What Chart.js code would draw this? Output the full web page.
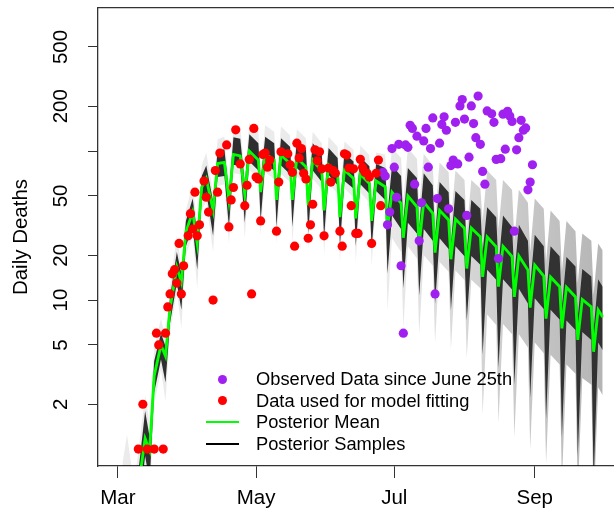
<!DOCTYPE html>
<html>
<head>
<meta charset="utf-8">
<script src="https://cdn.jsdelivr.net/npm/chart.js@4.4.0/dist/chart.umd.min.js"></script>
<style>
  html, body { margin: 0; padding: 0; background: #fff; }
  #wrap { position: relative; width: 614px; height: 516px; }
  .row { position: absolute; left: 200px; height: 22px; width: 360px; font: 18.3px "Liberation Sans", Arial, sans-serif; color: #000; white-space: nowrap; }
  .row .txt { position: absolute; left: 56px; top: 0; line-height: 22px; }
  .dot { position: absolute; left: 17.5px; top: 6.5px; width: 9px; height: 9px; border-radius: 50%; }
  .ln { position: absolute; left: 6px; top: 10px; width: 33px; height: 2px; }
</style>
</head>
<body>
<div id="wrap">
  <canvas id="chart" width="614" height="516"></canvas>
  <div class="row" style="top:368px"><span class="dot" style="background:#a020f0"></span><span class="txt">Observed Data since June 25th</span></div>
  <div class="row" style="top:389.5px"><span class="dot" style="background:#ff0000"></span><span class="txt">Data used for model fitting</span></div>
  <div class="row" style="top:411px"><span class="ln" style="background:#00ff00"></span><span class="txt">Posterior Mean</span></div>
  <div class="row" style="top:432.5px"><span class="ln" style="background:#000"></span><span class="txt">Posterior Samples</span></div>
</div>
<script>
// Axis ticks (days counted from March 1st)
const monthTicks = [0, 61, 122, 184];
const monthLabels = ['Mar', 'May', 'Jul', 'Sep'];
const deathTicks = [2, 5, 10, 20, 50, 100, 200, 500];
const deathTickLabels = ['2', '5', '10', '20', '50', '', '200', '500'];

// Data used for model fitting (red)
const fitDays = [9, 11, 13, 16, 17, 18, 20, 21, 22, 23, 24, 25, 26, 27, 28, 29,
  31, 32, 33, 34, 35, 36, 38, 39, 40, 42, 43, 44, 45, 48, 49, 50, 51, 52, 54,
  56, 57, 58, 59, 60, 61, 62, 63, 64, 65, 66, 67, 70, 71, 72, 75, 76, 77, 78,
  79, 80, 81, 82, 83, 84, 85, 86, 87, 88, 89, 90, 91, 93, 94, 95, 96, 98, 99,
  100, 101, 102, 103, 104, 105, 106, 107, 108, 109, 110, 111, 112, 114, 115, 116];
const fitDeaths = [1, 2, 1, 1, 6, 5, 1, 6, 9, 11, 15, 16, 13, 24, 11, 17,
  27, 38, 30, 53, 27, 32, 63, 49, 39, 10, 74, 53, 97, 110, 31, 47, 57, 139, 82,
  43, 59, 88, 11, 142, 67, 65, 34, 95, 97, 78, 87, 29, 62, 99, 96, 81, 72, 23,
  113, 90, 104, 71, 65, 26, 32, 44, 102, 86, 99, 76, 27, 77, 62, 74, 71, 29, 23,
  96, 94, 77, 43, 76, 28, 28, 88, 78, 72, 71, 67, 24, 71, 87, 43];

// Observed data since June 25th (purple)
const obsDays = [117, 118, 119, 120, 121, 122, 123, 124, 125, 126, 127, 128, 129,
  130, 131, 132, 133, 134, 135, 136, 137, 138, 139, 140, 141, 142, 143, 144, 145,
  146, 147, 148, 149, 150, 151, 152, 153, 154, 155, 156, 157, 158, 159, 160, 161,
  162, 163, 165, 166, 167, 168, 169, 170, 171, 172, 173, 174, 175, 176, 177, 178,
  179, 180, 181, 182, 183];
const obsDeaths = [72, 68, 32, 39, 104, 78, 49, 111, 17, 6, 110, 106, 149,
  142, 60, 126, 25, 45, 117, 142, 78, 104, 167, 11, 48, 113, 151, 170, 138,
  41, 80, 87, 156, 82, 201, 222, 164, 37, 91, 201, 153, 123, 234, 111, 73,
  60, 186, 178, 156, 88, 19, 89, 177, 103, 185, 172, 158, 29, 102, 123, 161,
  138, 143, 55, 62, 81];

// Posterior mean and the spread of the posterior samples, read at the weekly turning points
const curveDays = [2, 4, 7, 9, 12, 14, 16, 19, 21,
  23, 26, 28, 30, 33, 35, 37, 39, 42, 44, 47, 49,
  51, 54, 56, 58, 62, 63, 65, 69, 70, 72, 76, 77,
  79, 83, 84, 86, 90, 91, 93, 97, 98, 100, 104, 105,
  107, 111, 112, 114, 118, 119, 121, 125, 126, 128, 132, 133,
  135, 139, 140, 142, 146, 147, 149, 153, 154, 156, 160, 161,
  163, 167, 168, 170, 174, 175, 177, 181, 182, 184, 188, 189,
  191, 195, 196, 198, 202, 203, 205, 209, 210, 212, 214];
const meanDeaths = [0.3, 0.35, 0.4, 0.55, 1.18, 0.98, 3.1, 5.0, 4.2,
  8.8, 16.7, 13.2, 28.7, 39, 24, 57, 65.6, 40, 82.5, 84, 47,
  95, 93, 51, 100, 87, 53, 96, 87, 47, 94, 82.5, 47,
  90, 78.5, 43.4, 87, 73, 40, 80.6, 69, 36, 74.6, 65.6, 35.4,
  70, 60.6, 34, 63, 57.6, 30.5, 53, 44.5, 26.2, 50, 42.3, 23.7,
  45.5, 38.2, 20.8, 40, 34.5, 18.8, 35, 30.3, 16.3, 30.5, 26.6, 14.3,
  26.5, 22.8, 12.3, 23, 19.6, 10.5, 19.8, 15.9, 8.9, 17.2, 14.5, 7.5,
  14.3, 12.3, 6.45, 12.2, 10.5, 5.4, 10.1, 9.0, 4.5, 8.6, 7.7];
const sampleLow = [0.2, 0.22, 0.25, 0.35, 0.9, 0.6, 2.4, 4.0, 2.8,
  7.0, 13, 8.6, 23, 31, 16, 46, 53, 27, 67, 68, 31,
  81, 79, 33, 85, 74, 34, 82, 74, 31, 80, 70, 31,
  77, 67, 28, 74, 62, 26, 69, 59, 23, 63, 56, 23,
  60, 52, 22, 54, 47, 15, 37, 30, 12, 33, 28, 10.7,
  30, 25, 9.4, 26, 22, 8.5, 23, 19.7, 7.3, 19.8, 17.3, 4.3,
  16, 13.7, 3.5, 13.8, 11.8, 2.7, 11.9, 9.5, 2.2, 10.3, 8.7, 1.6,
  8.6, 7.4, 1.2, 7.3, 6.3, 0.9, 6.1, 5.4, 0.6, 5.2, 4.6];
const sampleHigh = [0.4, 0.5, 0.55, 0.7, 1.8, 1.2, 3.9, 6.0, 4.9,
  10.5, 21, 15, 34, 48, 28, 68, 80, 46, 100, 103, 54,
  124, 121, 61, 130, 113, 64, 125, 113, 56, 122, 107, 56,
  117, 102, 52, 113, 95, 48, 105, 90, 43, 97, 85, 42,
  91, 79, 41, 82, 77, 38, 80, 68, 34, 77, 66, 31,
  71, 59, 27, 62, 53, 24, 54, 47, 21, 47, 41, 21,
  42, 36, 17, 37, 31, 14.7, 32, 25, 12.5, 27.5, 23, 10.5,
  23, 19.7, 9, 19.5, 16.8, 7.6, 16.2, 14.4, 6.3, 13.8, 12.3];
const sampleFaintLow = [0.25, 0.3, 0.3, 0.25, 0.7, 0.45, 2.0, 3.4, 2.1,
  6.0, 11.5, 6.5, 20, 27, 12, 40, 46, 21, 58, 60, 24,
  71, 70, 26, 75, 65, 27, 72, 65, 24, 70, 62, 24,
  68, 59, 22, 65, 55, 20, 60, 52, 18, 56, 49, 18,
  53, 45, 17, 47, 40, 8.5, 26, 21, 6.5, 23, 19, 5.9,
  20, 17, 5.2, 18, 15.5, 4.7, 15.8, 13.6, 4.1, 13.7, 12, 1.7,
  8, 6.8, 1.5, 6.9, 5.9, 1.2, 5.9, 4.8, 1.0, 5.2, 4.4, 0.8,
  4.3, 3.7, 0.6, 3.7, 3.2, 0.5, 3.0, 2.7, 0.4, 2.6, 2.3];
const sampleFaintHigh = [0.8, 1.25, 0.6, 0.95, 2.3, 1.5, 4.8, 7.5, 5.6,
  12.5, 27, 17, 40, 60, 32, 80, 98, 52, 120, 125, 62,
  147, 144, 71, 155, 135, 74, 149, 135, 66, 146, 128, 66,
  140, 122, 61, 135, 113, 56, 125, 107, 50, 116, 102, 50,
  109, 94, 48, 98, 95, 52, 105, 90, 47, 105, 89, 43,
  96, 80, 37, 84, 72, 34, 74, 64, 29, 64, 56, 34,
  74, 64, 30, 64, 55, 25, 55, 45, 21, 48, 41, 18,
  40, 34, 15.5, 34, 29, 13, 28, 25, 10.8, 24, 21.5];

// Pair x and y arrays into points
function toPoints(xs, ys) {
  return xs.map((x, i) => ({ x: x, y: ys[i] }));
}

const font = { family: '"Liberation Sans", Arial, sans-serif', size: 20.5 };
const frameColor = '#333';

// Horizontal gradient: the spread of the samples gets denser later on
function shade(from, to) {
  return (c) => {
    const area = c.chart.chartArea;
    if (!area) return 'rgba(0,0,0,' + from + ')';
    const g = c.chart.ctx.createLinearGradient(area.left, 0, area.right, 0);
    g.addColorStop(0, 'rgba(0,0,0,' + from + ')');
    g.addColorStop(0.55, 'rgba(0,0,0,' + from + ')');
    g.addColorStop(1, 'rgba(0,0,0,' + to + ')');
    return g;
  };
}

// Band dataset helper (no outline, just the fill)
function band(values, fill, color, order) {
  return {
    data: toPoints(curveDays, values),
    borderColor: 'rgba(0,0,0,0)',
    borderWidth: 0,
    pointRadius: 0,
    tension: 0,
    fill: fill,
    backgroundColor: color,
    order: order
  };
}

// Keep the plot frame exactly where the axes put it
function noPadding(s) {
  s.paddingTop = 0;
  s.paddingBottom = 0;
  s.paddingLeft = 0;
  s.paddingRight = 0;
}

new Chart(document.getElementById('chart'), {
  type: 'line',
  data: {
    datasets: [
      band(sampleFaintLow, '+1', shade(0.08, 0.3), 6),
      band(sampleFaintHigh, false, 'rgba(0,0,0,0)', 6),
      band(sampleLow, '+1', shade(0.8, 0.72), 5),
      band(sampleHigh, false, 'rgba(0,0,0,0)', 5),
      {
        label: 'Posterior Mean',
        data: toPoints(curveDays, meanDeaths),
        borderColor: '#00ff00',
        borderWidth: 2.8,
        pointRadius: 0,
        tension: 0,
        fill: false,
        order: 3
      },
      {
        label: 'Observed Data since June 25th',
        data: toPoints(obsDays, obsDeaths),
        showLine: false,
        pointRadius: 4.6,
        pointBorderWidth: 0,
        pointBackgroundColor: '#a020f0',
        order: 2
      },
      {
        label: 'Data used for model fitting',
        data: toPoints(fitDays, fitDeaths),
        showLine: false,
        pointRadius: 4.6,
        pointBorderWidth: 0,
        pointBackgroundColor: '#ff0000',
        order: 1
      }
    ]
  },
  options: {
    responsive: false,
    animation: false,
    layout: { autoPadding: false, padding: { top: 8, right: 0, bottom: 0, left: 0 } },
    plugins: {
      legend: { display: false },
      tooltip: { enabled: false }
    },
    scales: {
      x: {
        type: 'linear',
        min: -8.8,
        max: 219,
        afterBuildTicks: s => { s.ticks = monthTicks.map(v => ({ value: v })); },
        afterFit: s => { s.height = 50; noPadding(s); },
        ticks: {
          autoSkip: false,
          maxRotation: 0,
          padding: 8,
          font: font,
          color: '#000',
          callback: v => monthLabels[monthTicks.indexOf(v)]
        },
        grid: { drawOnChartArea: false, tickLength: 12, color: frameColor, tickColor: frameColor },
        border: { color: frameColor, width: 1.3 }
      },
      xTop: {
        axis: 'x',
        type: 'linear',
        position: 'top',
        afterFit: s => { s.height = 0; noPadding(s); },
        ticks: { display: false },
        grid: { display: false },
        border: { display: true, color: frameColor, width: 1.3 }
      },
      y: {
        type: 'logarithmic',
        min: 0.77,
        max: 913,
        afterBuildTicks: s => { s.ticks = deathTicks.map(v => ({ value: v })); },
        afterFit: s => { s.width = 98; noPadding(s); },
        ticks: {
          autoSkip: false,
          minRotation: 90,
          maxRotation: 90,
          crossAlign: 'center',
          padding: 10,
          font: font,
          color: '#000',
          callback: v => deathTickLabels[deathTicks.indexOf(v)]
        },
        grid: { drawOnChartArea: false, tickLength: 10, color: frameColor, tickColor: frameColor },
        border: { color: frameColor, width: 1.3 },
        title: {
          display: true,
          text: 'Daily Deaths',
          font: font,
          color: '#000',
          padding: { top: 9, bottom: 0 }
        }
      }
    }
  }
});
</script>
</body>
</html>
